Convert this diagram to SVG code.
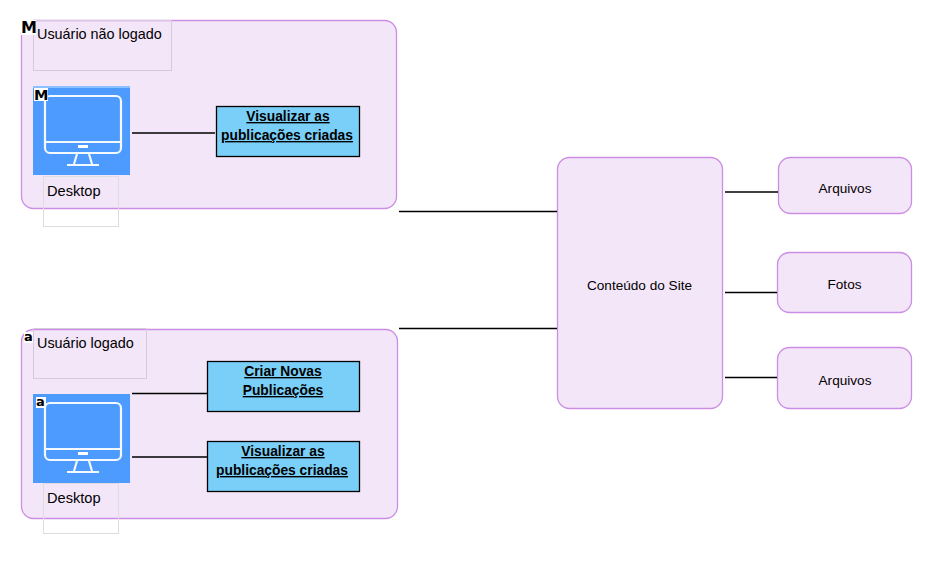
<svg xmlns="http://www.w3.org/2000/svg" width="933" height="561" viewBox="0 0 933 561">
<style>
text{font-family:"Liberation Sans",Arial,sans-serif;fill:#000}
.c{fill:#f4e6f9;stroke:#cb8ee4;stroke-width:1.3}
.l{font-size:14.4px}
.d{font-size:14.6px}
.s{font-size:13.6px;text-anchor:middle}
.b{fill:#79cff7;stroke:#000;stroke-width:1.3}
.t{font-size:13.8px;font-weight:bold;text-decoration:underline;text-anchor:middle}
.g{fill:none;stroke:#ddd;stroke-width:1}
.g2{fill:none;stroke:#d9c9dc;stroke-width:1}
.w{fill:none;stroke:#f4f8ff;stroke-width:2.2}
.m{font-size:16px;font-weight:bold;font-family:"DejaVu Sans",sans-serif}
.a{font-size:13px;font-weight:bold;font-family:"DejaVu Sans",sans-serif}
#conn line{stroke:#000;stroke-width:1.3}
</style>
<defs>
<g id="pc">
<rect x="12" y="10" width="76" height="57" rx="5" class="w"/>
<line x1="12" y1="56" x2="88" y2="56" class="w"/>
<rect x="45" y="59" width="10" height="3" fill="#fff"/>
<path d="M44 68 L41 78 M56 68 L59 78 M34 79 H66" class="w"/>
</g>
</defs>
<g id="n-user-out">
<rect x="21.500" y="20.500" width="375" height="188" rx="12" class="c"/>
<rect x="33.500" y="20.500" width="138" height="50" class="g2"/>
<text x="37" y="39" class="l">Usuário não logado</text>
<rect x="21" y="20" width="15" height="15" fill="#fff"/>
<text x="21" y="33" class="m">M</text>
</g>
<g id="n-desktop-out">
<rect x="33" y="86" width="97" height="89" fill="#4d9bff"/>
<rect x="33" y="86" width="97" height="2" fill="#8cc0ff"/>
<use href="#pc" x="33" y="86"/>
<rect x="34" y="88" width="14" height="13" fill="#fff"/>
<text x="34" y="100" class="m" style="font-size:14.500px">M</text>
<rect x="43.500" y="176.500" width="75" height="50" class="g"/>
<text x="47" y="196" class="d">Desktop</text>
</g>
<g id="n-view-out">
<rect x="216.500" y="106.500" width="143" height="50" class="b"/>
<text x="288" y="121" class="t">Visualizar as</text>
<text x="287" y="140" class="t">publicações criadas</text>
</g>
<g id="n-user-in">
<rect x="21.500" y="329.500" width="376" height="189" rx="12" class="c"/>
<rect x="33.500" y="328.500" width="113" height="50" class="g2"/>
<text x="37" y="348" class="l">Usuário logado</text>
<rect x="24" y="332" width="9" height="11" fill="#fff"/>
<text x="24" y="341" class="a">a</text>
</g>
<g id="n-desktop-in">
<rect x="33" y="394" width="97" height="89" fill="#4d9bff"/>
<use href="#pc" x="33" y="393"/>
<rect x="36" y="397" width="10" height="11" fill="#fff"/>
<text x="36" y="406" class="a">a</text>
<rect x="43.500" y="483.500" width="75" height="50" class="g"/>
<text x="47" y="503" class="d">Desktop</text>
</g>
<g id="n-create">
<rect x="207.500" y="361.500" width="152" height="50" class="b"/>
<text x="283" y="376" class="t">Criar Novas</text>
<text x="283" y="395" class="t">Publicações</text>
</g>
<g id="n-view-in">
<rect x="207.500" y="441.500" width="152" height="50" class="b"/>
<text x="283" y="456" class="t">Visualizar as</text>
<text x="282" y="475" class="t">publicações criadas</text>
</g>
<g id="n-content">
<rect x="557.500" y="157.500" width="165" height="251" rx="12" class="c"/>
<text x="639.500" y="290" class="s">Conteúdo do Site</text>
</g>
<g id="n-files1">
<rect x="778.500" y="157.500" width="133" height="56" rx="12" class="c"/>
<text x="845" y="193" class="s">Arquivos</text>
</g>
<g id="n-photos">
<rect x="777.500" y="252.500" width="134" height="60" rx="12" class="c"/>
<text x="844.500" y="289" class="s">Fotos</text>
</g>
<g id="n-files2">
<rect x="777.500" y="347.500" width="134" height="61" rx="12" class="c"/>
<text x="845" y="385" class="s">Arquivos</text>
</g>
<g id="conn">
<line x1="132" y1="133" x2="215" y2="133"/>
<line x1="132" y1="393.500" x2="207" y2="393.500"/>
<line x1="132" y1="457" x2="207" y2="457"/>
<line x1="399" y1="211.500" x2="557" y2="211.500"/>
<line x1="399" y1="328.500" x2="557" y2="328.500"/>
<line x1="725" y1="192" x2="778" y2="192"/>
<line x1="725" y1="292.500" x2="777" y2="292.500"/>
<line x1="725" y1="377.500" x2="777" y2="377.500"/>
</g>
</svg>
